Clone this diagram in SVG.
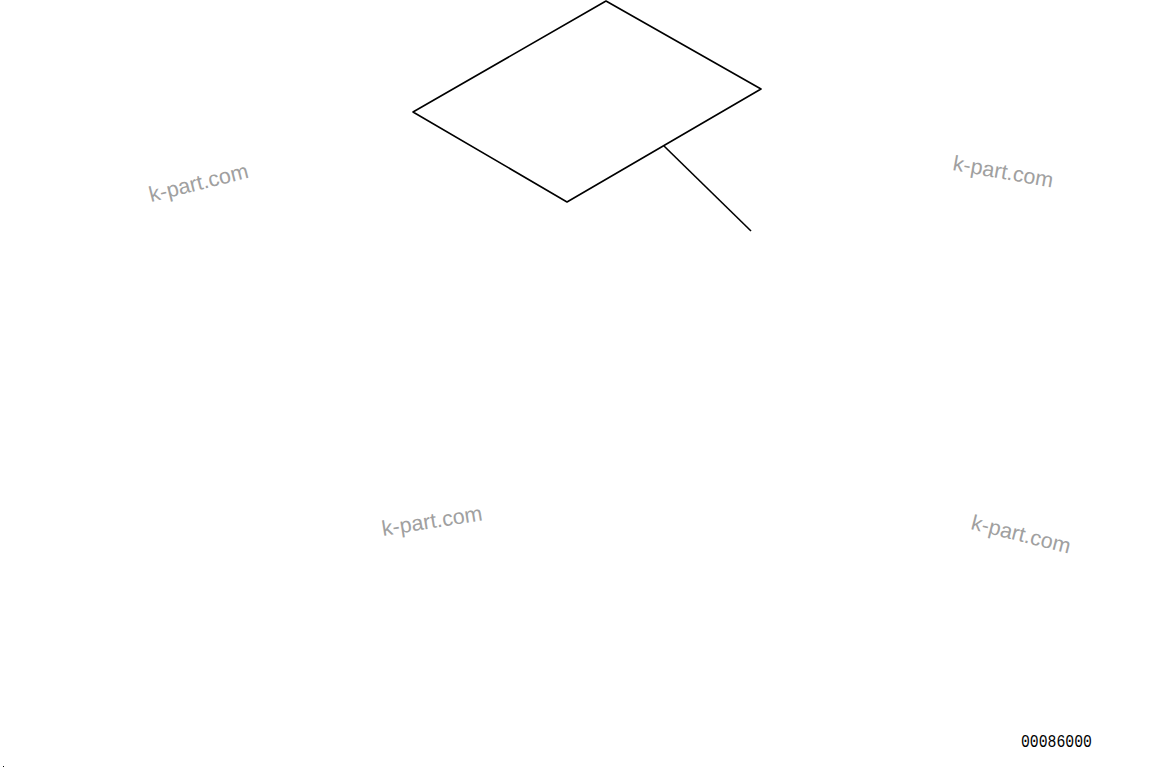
<svg xmlns="http://www.w3.org/2000/svg" width="1163" height="777" viewBox="0 0 1163 777">
<style>
.wm{font-family:"Liberation Sans",Arial,sans-serif;font-size:21.5px;fill:#a0a0a0}
.ln{fill:none;stroke:#000;stroke-width:1.6;stroke-linejoin:round}
.num{font-family:"Liberation Mono","DejaVu Sans Mono",monospace;font-size:18px;fill:#000}
</style>
<rect width="1163" height="777" fill="#fff"/>
<g id="plate">
<polygon class="ln" points="606,1 761,89 567,202 413,112"/>
</g>
<g id="connectors">
<line class="ln" x1="664" y1="146" x2="751" y2="231"/>
</g>
<g id="watermarks">
<text class="wm" transform="translate(151,202) rotate(-14)">k-part.com</text>
<text class="wm" transform="translate(952,170) rotate(10)">k-part.com</text>
<text class="wm" transform="translate(383,536) rotate(-9)">k-part.com</text>
<text class="wm" transform="translate(970,529) rotate(14)">k-part.com</text>
</g>
<g id="label">
<text class="num" x="1021" y="746.5" textLength="71" lengthAdjust="spacingAndGlyphs">00086000</text>
</g>
<rect x="3" y="766" width="1" height="1" fill="#000"/>
</svg>
